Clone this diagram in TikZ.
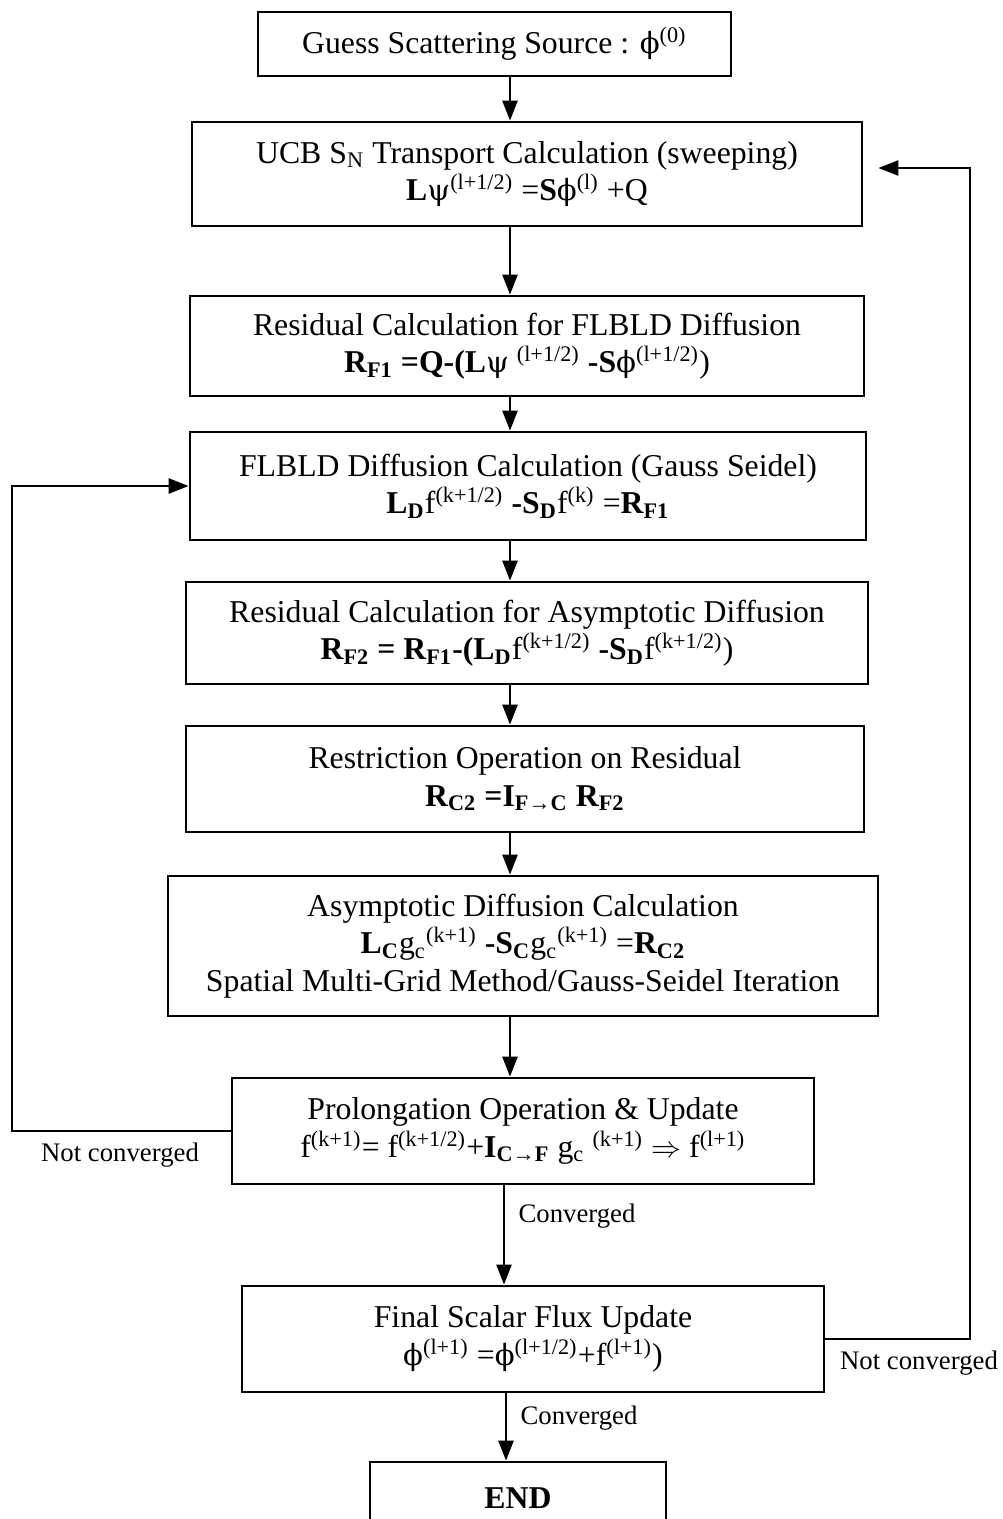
\documentclass[tikz,border=0pt]{standalone}
\usepackage{fontspec}
\setmainfont{Liberation Serif}
\newfontfamily\grk[Scale=0.92]{DejaVu Serif}
\usetikzlibrary{arrows.meta, positioning}
\newcommand{\ph}{{\grk ϕ}}
\newcommand{\ps}{{\grk ψ}}

\begin{document}
\begin{tikzpicture}[x=0.4pt, y=-0.4pt,
  box/.style={draw, line width=1.1pt, align=center, inner sep=2pt,
    font=\fontsize{12.7}{15}\selectfont},
  lbl/.style={font=\fontsize{10.7}{13}\selectfont},
  arr/.style={-{Triangle[length=8pt, width=6pt]}, line width=1pt}]
  \useasboundingbox (0,0) rectangle (1002,1519);
  \coordinate (spine) at (510,0);
  \coordinate (lft) at (12,0);
  \coordinate (rgt) at (970,0);
  \node[box, minimum width=189.2pt, minimum height=25.6pt] (guess) at (494.5,44)
    {Guess Scattering Source : \ph\textsuperscript{(0)}};
  \node[box, minimum width=268pt, minimum height=41.6pt] (ucb) at (527,174)
    {UCB S\textsubscript{N} Transport Calculation (sweeping)\\
     \textbf{L}\ps\textsuperscript{(l+1/2)} =\textbf{S}\ph\textsuperscript{(l)} +Q};
  \node[box, minimum width=269.6pt, minimum height=40pt] (res1) at (527,346)
    {Residual Calculation for FLBLD Diffusion\\
     \textbf{R\textsubscript{F1} =Q-(L}\ps\ \textsuperscript{(l+1/2)} \textbf{-S}\ph\textsuperscript{(l+1/2)})};
  \node[box, minimum width=270.4pt, minimum height=43.2pt] (fd) at (528,486)
    {FLBLD Diffusion Calculation (Gauss Seidel)\\
     \textbf{L\textsubscript{D}}f\textsuperscript{(k+1/2)} \textbf{-S\textsubscript{D}}f\textsuperscript{(k)} =\textbf{R\textsubscript{F1}}};
  \node[box, minimum width=272.8pt, minimum height=40.8pt] (res2) at (527,633)
    {Residual Calculation for Asymptotic Diffusion\\
     \textbf{R\textsubscript{F2} = R\textsubscript{F1}-(L\textsubscript{D}}f\textsuperscript{(k+1/2)} \textbf{-S\textsubscript{D}}f\textsuperscript{(k+1/2)})};
  \node[box, minimum width=271.2pt, minimum height=42.4pt] (restr) at (525,779)
    {Restriction Operation on Residual\\
     \textbf{R\textsubscript{C2} =I\textsubscript{F→C} R\textsubscript{F2}}};
  \node[box, minimum width=284pt, minimum height=56pt] (asym) at (523,946)
    {Asymptotic Diffusion Calculation\\
     \textbf{L\textsubscript{C}}g\textsubscript{c}\textsuperscript{(k+1)} \textbf{-S\textsubscript{C}}g\textsubscript{c}\textsuperscript{(k+1)} =\textbf{R\textsubscript{C2}}\\
     Spatial Multi-Grid Method/Gauss-Seidel Iteration};
  \node[box, minimum width=232.8pt, minimum height=42.4pt] (prol) at (523,1131)
    {Prolongation Operation \& Update\\
     f\textsuperscript{(k+1)}= f\textsuperscript{(k+1/2)}+\textbf{I\textsubscript{C→F}} g\textsubscript{c} \textsuperscript{(k+1)} $\Rightarrow$ f\textsuperscript{(l+1)}};
  \node[box, minimum width=232.8pt, minimum height=42.4pt] (final) at (533,1339)
    {Final Scalar Flux Update\\
     \ph\textsuperscript{(l+1)} =\ph\textsuperscript{(l+1/2)}+f\textsuperscript{(l+1)})};
  \node[box, minimum width=118.4pt, minimum height=28.8pt] (end) at (518,1498)
    {\textbf{END}};
  % main chain
  \foreach \a/\b in {guess/ucb, ucb/res1, res1/fd, fd/res2, res2/restr, restr/asym, asym/prol}
    \draw[arr] (\a.south -| spine) -- (\b.north -| spine);
  \draw[arr] (prol.south -| 504,0) -- node[lbl, right=2pt, pos=0.31] {Converged} (final.north -| 504,0);
  \draw[arr] (final.south -| 506,0) -- node[lbl, right=2pt, pos=0.37] {Converged} (end.north -| 506,0);
  % loops
  \draw[arr] (prol.west) -- (prol.west -| lft) |- (fd.west);
  \node[lbl] (nc1) at (120,1155) {Not converged};
  \draw[arr, shorten >=6pt] (final.east) -- (final.east -| rgt) |- ([yshift=2.4pt]ucb.east);
  \node[lbl] (nc2) at (919,1363) {Not converged};
\end{tikzpicture}
\end{document}
